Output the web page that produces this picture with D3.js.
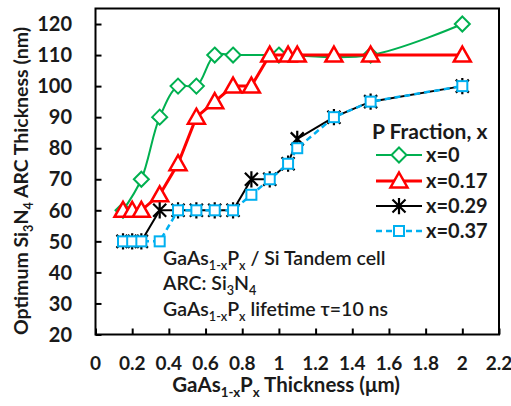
<!DOCTYPE html>
<html>
<head>
<meta charset="utf-8">
<script src="https://cdn.jsdelivr.net/npm/d3@7"></script>
<style>
  body { margin: 0; background: #fff; }
  svg { display: block; font-family: Lato, "Open Sans", sans-serif; }
</style>
</head>
<body>
<svg id="chart" width="511" height="406"></svg>
<script>
// data
var xTicks = [0, 0.2, 0.4, 0.6, 0.8, 1, 1.2, 1.4, 1.6, 1.8, 2, 2.2];
var yTicks = [20, 30, 40, 50, 60, 70, 80, 90, 100, 110, 120];

var x0Thick = [0.15, 0.25, 0.35, 0.45, 0.55, 0.65, 0.75, 1.0, 1.5, 2.0];
var x0Arc   = [60, 70, 90, 100, 100, 110, 110, 110, 110, 120];

var x17Thick = [0.15, 0.2, 0.25, 0.35, 0.45, 0.55, 0.65, 0.75, 0.85, 0.95, 1.05, 1.1, 1.3, 1.5, 2.0];
var x17Arc   = [60, 60, 60, 65, 75, 90, 95, 100, 100, 110, 110, 110, 110, 110, 110];

var x29Thick = [0.15, 0.2, 0.25, 0.35, 0.45, 0.55, 0.65, 0.75, 0.85, 0.95, 1.05, 1.1, 1.3, 1.5, 2.0];
var x29Arc   = [50, 50, 50, 60, 60, 60, 60, 60, 70, 70, 75, 83, 90, 95, 100];

var x37Thick = [0.15, 0.2, 0.25, 0.35, 0.45, 0.55, 0.65, 0.75, 0.85, 0.95, 1.05, 1.1, 1.3, 1.5, 2.0];
var x37Arc   = [50, 50, 50, 50, 60, 60, 60, 60, 65, 70, 75, 80, 90, 95, 100];

var seriesNames = ["x=0", "x=0.17", "x=0.29", "x=0.37"];

var svg = d3.select("#chart");
var pLeft = 95.5, pRight = 499, pTop = 8.5, pBottom = 334.5;

var x = d3.scaleLinear().domain([0, 2.2]).range([pLeft, pRight]);
var y = d3.scaleLinear().domain([20, 125]).range([pBottom, pTop]);

var txt = "#1a1a1a";

// frame
svg.append("rect")
  .attr("x", pLeft).attr("y", pTop)
  .attr("width", pRight - pLeft).attr("height", pBottom - pTop)
  .attr("fill", "none").attr("stroke", "#000").attr("stroke-width", 2);

// y axis, ticks pointing inside
var yAxis = d3.axisRight(y).tickValues(yTicks).tickSize(6).tickFormat("");
var gy = svg.append("g").attr("transform", "translate(" + pLeft + ",0)").call(yAxis);
gy.select(".domain").remove();
gy.selectAll("line").attr("stroke", "#000").attr("stroke-width", 2);

svg.append("g").selectAll("text")
  .data(yTicks).enter().append("text")
  .attr("x", 72).attr("y", function(d) { return y(d); })
  .attr("dy", "0.36em")
  .attr("text-anchor", "end")
  .attr("font-size", 20).attr("font-weight", "bold").attr("fill", txt)
  .text(function(d) { return d; });

// x axis, ticks pointing up
var xAxis = d3.axisTop(x).tickValues(xTicks).tickSize(6).tickFormat("");
var gx = svg.append("g").attr("transform", "translate(0," + pBottom + ")").call(xAxis);
gx.select(".domain").remove();
gx.selectAll("line").attr("stroke", "#000").attr("stroke-width", 2);

svg.append("g").selectAll("text")
  .data(xTicks).enter().append("text")
  .attr("x", function(d) { return x(d); }).attr("y", 363)
  .attr("dy", "0.36em")
  .attr("text-anchor", "middle")
  .attr("font-size", 19).attr("font-weight", "bold").attr("fill", txt)
  .text(function(d) { return d; });

// text with subscripts
function rich(sel, parts, size) {
  parts.forEach(function(p) {
    var t = sel.append("tspan").text(p[0]);
    if (p[1] == "sub") {
      t.attr("font-size", size * 0.65).attr("dy", size * 0.25);
    } else if (p[1] == "back") {
      t.attr("dy", -size * 0.25);
    }
  });
}

var xt = svg.append("text")
  .attr("x", 286).attr("y", 392)
  .attr("text-anchor", "middle")
  .attr("font-size", 20.5).attr("font-weight", "bold").attr("fill", txt);
rich(xt, [["GaAs"], ["1-x", "sub"], ["P", "back"], ["x", "sub"], [" Thickness (μm)", "back"]], 20.5);

var yt = svg.append("text")
  .attr("transform", "translate(28,181) rotate(-90)")
  .attr("text-anchor", "middle")
  .attr("font-size", 19.5).attr("font-weight", "bold").attr("fill", txt);
rich(yt, [["Optimum Si"], ["3", "sub"], ["N", "back"], ["4", "sub"], [" ARC Thickness (nm)", "back"]], 19.5);

// markers
function star(g, s) {
  g.append("path")
    .attr("d", "M" + (-s) + "," + (-s) + "L" + s + "," + s + "M" + (-s) + "," + s + "L" + s + "," + (-s) +
               "M0," + (-s * 1.25) + "L0," + (s * 1.25))
    .attr("stroke", "#000").attr("stroke-width", 2.2).attr("fill", "none");
}
var markers = [
  function(g) { g.append("path").attr("d", "M0,-7.5L7.5,0L0,7.5L-7.5,0Z").attr("fill", "#fff").attr("stroke", "#00B050").attr("stroke-width", 2); },
  function(g) { g.append("path").attr("d", "M0,-8.5L8.5,6.5L-8.5,6.5Z").attr("fill", "#fff").attr("stroke", "#FF0000").attr("stroke-width", 2.5); },
  function(g) { star(g, 6.5); },
  function(g) { g.append("rect").attr("x", -5).attr("y", -5).attr("width", 10).attr("height", 10).attr("fill", "#fff").attr("stroke", "#00B0F0").attr("stroke-width", 2); }
];
var colors = ["#00B050", "#FF0000", "#000000", "#00B0F0"];
var widths = [2, 3, 2, 2.5];
var dashes = [null, null, null, "6,4"];

var series = [
  d3.zip(x0Thick, x0Arc),
  d3.zip(x17Thick, x17Arc),
  d3.zip(x29Thick, x29Arc),
  d3.zip(x37Thick, x37Arc)
];

series.forEach(function(pts, i) {
  var line = d3.line()
    .x(function(d) { return x(d[0]); })
    .y(function(d) { return y(d[1]); })
    .curve(i == 0 ? d3.curveCatmullRom : d3.curveLinear);
  svg.append("path")
    .datum(pts)
    .attr("d", line)
    .attr("fill", "none")
    .attr("stroke", colors[i])
    .attr("stroke-width", widths[i])
    .attr("stroke-dasharray", dashes[i]);
  pts.forEach(function(d) {
    var g = svg.append("g").attr("transform", "translate(" + x(d[0]) + "," + y(d[1]) + ")");
    markers[i](g);
  });
});

// legend
svg.append("text")
  .attr("x", 372).attr("y", 131).attr("dy", "0.36em")
  .attr("font-size", 21).attr("font-weight", "bold").attr("fill", txt)
  .text("P Fraction, x");

var legendY = [155, 181, 206, 231];
seriesNames.forEach(function(name, i) {
  svg.append("line")
    .attr("x1", 376).attr("x2", 422)
    .attr("y1", legendY[i]).attr("y2", legendY[i])
    .attr("stroke", colors[i]).attr("stroke-width", widths[i])
    .attr("stroke-dasharray", dashes[i]);
  markers[i](svg.append("g").attr("transform", "translate(399," + legendY[i] + ")"));
  svg.append("text")
    .attr("x", 426).attr("y", legendY[i]).attr("dy", "0.36em")
    .attr("font-size", 20).attr("font-weight", "bold").attr("fill", txt)
    .text(name);
});

// annotation
var ann = [
  [["GaAs"], ["1-x", "sub"], ["P", "back"], ["x", "sub"], [" / Si Tandem cell", "back"]],
  [["ARC: Si"], ["3", "sub"], ["N", "back"], ["4", "sub"]],
  [["GaAs"], ["1-x", "sub"], ["P", "back"], ["x", "sub"], [" lifetime τ=10 ns", "back"]]
];
var annY = [265, 290, 316];
ann.forEach(function(parts, i) {
  var t = svg.append("text")
    .attr("x", 163).attr("y", annY[i])
    .attr("font-size", 19.5).attr("font-weight", 600).attr("fill", txt);
  rich(t, parts, 19.5);
});
</script>
</body>
</html>
